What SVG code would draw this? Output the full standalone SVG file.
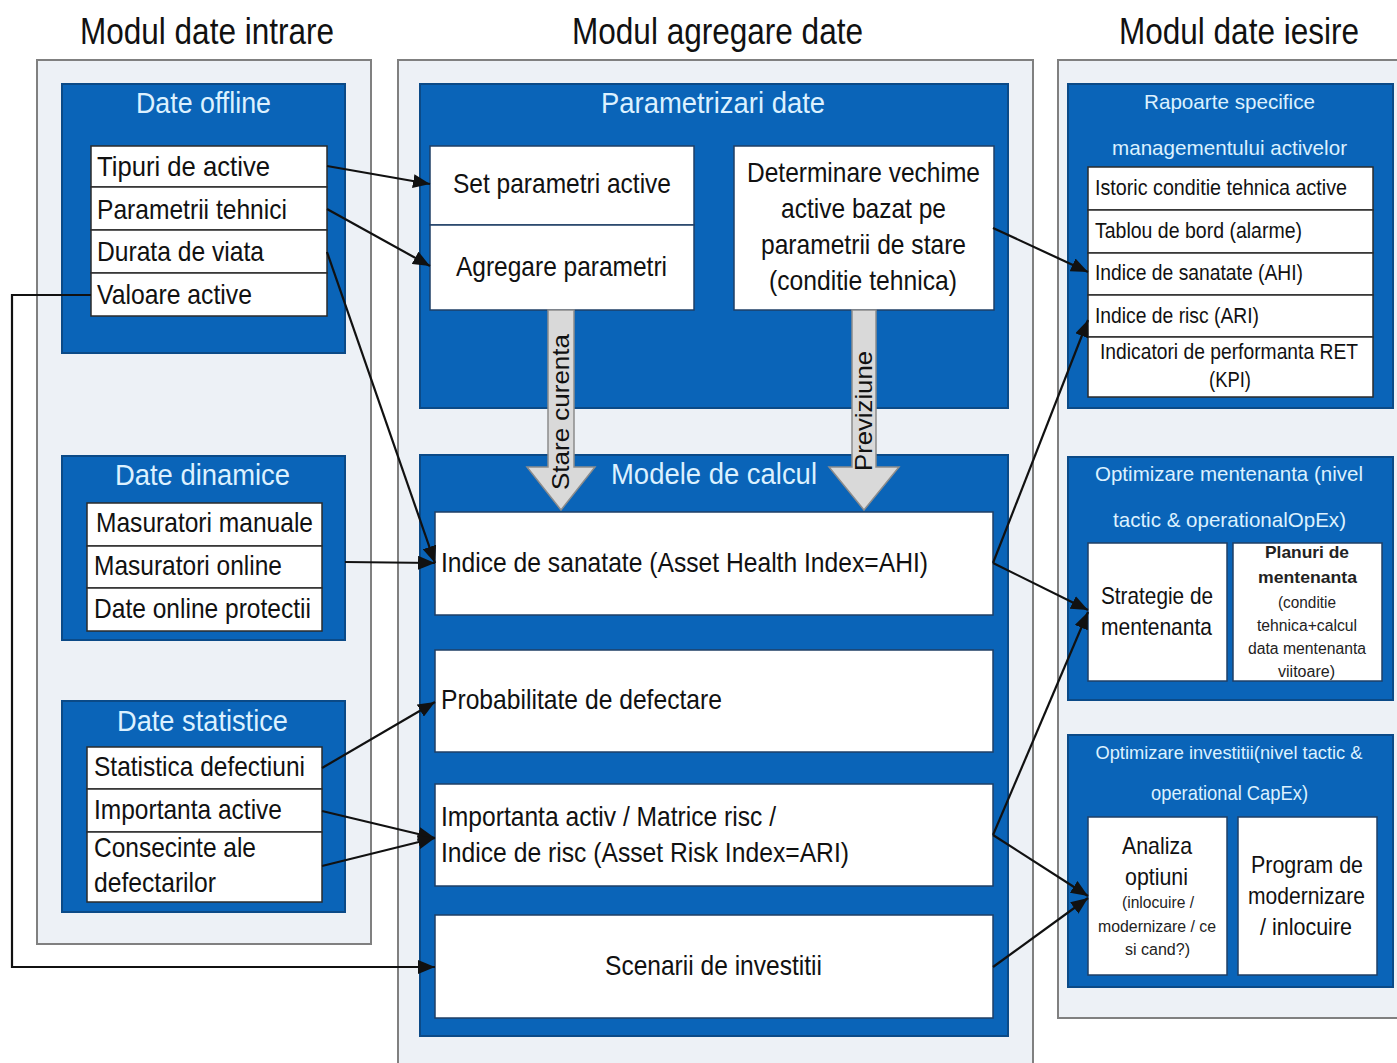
<svg xmlns="http://www.w3.org/2000/svg" width="1397" height="1063" viewBox="0 0 1397 1063">
  <defs>
    <style>
      .panel { fill: #edf1f6; stroke: #808080; stroke-width: 2; }
      .blue { fill: #0a64b8; stroke: #0b4a87; stroke-width: 2; }
      .row { fill: #ffffff; stroke: #2b2b2b; stroke-width: 1.5; }
      .box { fill: #ffffff; stroke: #1f3f66; stroke-width: 1.5; }
      .big { font-family: "Liberation Sans", Arial, sans-serif; font-size: 36px; fill: #111111; }
      .btitle { font-family: "Liberation Sans", Arial, sans-serif; font-size: 29px; fill: #dcf1ff; }
      .stitle { font-family: "Liberation Sans", Arial, sans-serif; font-size: 21px; fill: #dcf1ff; }
      .t { font-family: "Liberation Sans", Arial, sans-serif; font-size: 28px; fill: #111111; }
      .m { font-family: "Liberation Sans", Arial, sans-serif; font-size: 24px; fill: #111111; }
      .s { font-family: "Liberation Sans", Arial, sans-serif; font-size: 22px; fill: #111111; }
      .xs { font-family: "Liberation Sans", Arial, sans-serif; font-size: 16px; fill: #222222; }
      .xsb { font-family: "Liberation Sans", Arial, sans-serif; font-size: 17px; font-weight: bold; fill: #222222; }
      .conn { fill: none; stroke: #111111; stroke-width: 2.2; }
      .flow { fill: #d9d9d9; stroke: #8c8c8c; stroke-width: 1.5; }
    </style>
    <marker id="arrow" markerUnits="userSpaceOnUse" markerWidth="18" markerHeight="14" refX="17" refY="7" orient="auto">
      <path d="M0,0 L17,7 L0,14 z" fill="#111111"/>
    </marker>
  </defs>

  <rect width="1397" height="1063" fill="#ffffff"/>

  <!-- column headings -->
  <text class="big" x="80" y="44" textLength="254" lengthAdjust="spacingAndGlyphs">Modul date intrare</text>
  <text class="big" x="572" y="44" textLength="291" lengthAdjust="spacingAndGlyphs">Modul agregare date</text>
  <text class="big" x="1119" y="44" textLength="240" lengthAdjust="spacingAndGlyphs">Modul date iesire</text>

  <!-- module panels -->
  <rect id="panel-intrare" class="panel" x="37" y="60" width="334" height="884"/>
  <rect id="panel-agregare" class="panel" x="398" y="60" width="635" height="1010"/>
  <rect id="panel-iesire" class="panel" x="1058" y="60" width="345" height="958"/>

  <!-- input: offline data -->
  <g id="date-offline">
    <rect class="blue" x="62" y="84" width="283" height="269"/>
    <text class="btitle" x="136" y="113" textLength="135" lengthAdjust="spacingAndGlyphs">Date offline</text>
    <rect class="row" x="91" y="146" width="236" height="41"/>
    <rect class="row" x="91" y="187" width="236" height="43"/>
    <rect class="row" x="91" y="230" width="236" height="43"/>
    <rect class="row" x="91" y="273" width="236" height="43"/>
    <text class="t" x="97" y="176" textLength="173" lengthAdjust="spacingAndGlyphs">Tipuri de  active</text>
    <text class="t" x="97" y="219" textLength="190" lengthAdjust="spacingAndGlyphs">Parametrii tehnici</text>
    <text class="t" x="97" y="261" textLength="167" lengthAdjust="spacingAndGlyphs">Durata de viata</text>
    <text class="t" x="97" y="304" textLength="155" lengthAdjust="spacingAndGlyphs">Valoare active</text>
  </g>

  <!-- input: dynamic data -->
  <g id="date-dinamice">
    <rect class="blue" x="62" y="456" width="283" height="184"/>
    <text class="btitle" x="115" y="485" textLength="175" lengthAdjust="spacingAndGlyphs">Date dinamice</text>
    <rect class="row" x="87" y="503" width="235" height="43"/>
    <rect class="row" x="87" y="546" width="235" height="42"/>
    <rect class="row" x="87" y="588" width="235" height="43"/>
    <text class="t" x="96" y="532" textLength="217" lengthAdjust="spacingAndGlyphs">Masuratori manuale</text>
    <text class="t" x="94" y="575" textLength="188" lengthAdjust="spacingAndGlyphs">Masuratori online</text>
    <text class="t" x="94" y="618" textLength="217" lengthAdjust="spacingAndGlyphs">Date online protectii</text>
  </g>

  <!-- input: statistical data -->
  <g id="date-statistice">
    <rect class="blue" x="62" y="701" width="283" height="211"/>
    <text class="btitle" x="117" y="731" textLength="171" lengthAdjust="spacingAndGlyphs">Date statistice</text>
    <rect class="row" x="87" y="747" width="235" height="42"/>
    <rect class="row" x="87" y="789" width="235" height="43"/>
    <rect class="row" x="87" y="832" width="235" height="70"/>
    <text class="t" x="94" y="776" textLength="211" lengthAdjust="spacingAndGlyphs">Statistica defectiuni</text>
    <text class="t" x="94" y="819" textLength="188" lengthAdjust="spacingAndGlyphs">Importanta active</text>
    <text class="t" x="94" y="857" textLength="162" lengthAdjust="spacingAndGlyphs">Consecinte ale</text>
    <text class="t" x="94" y="892" textLength="122" lengthAdjust="spacingAndGlyphs">defectarilor</text>
  </g>

  <!-- aggregation: parameterisation -->
  <g id="parametrizari-date">
    <rect class="blue" x="420" y="84" width="588" height="324"/>
    <text class="btitle" x="601" y="113" textLength="224" lengthAdjust="spacingAndGlyphs">Parametrizari date</text>
    <rect class="box" x="430" y="146" width="264" height="79"/>
    <rect class="box" x="430" y="225" width="264" height="85"/>
    <text class="t" x="453" y="193" textLength="218" lengthAdjust="spacingAndGlyphs">Set parametri active</text>
    <text class="t" x="456" y="276" textLength="211" lengthAdjust="spacingAndGlyphs">Agregare parametri</text>
    <rect class="box" x="734" y="146" width="260" height="164"/>
    <text class="t" x="747" y="182" textLength="233" lengthAdjust="spacingAndGlyphs">Determinare vechime</text>
    <text class="t" x="781" y="218" textLength="165" lengthAdjust="spacingAndGlyphs">active bazat pe</text>
    <text class="t" x="761" y="254" textLength="205" lengthAdjust="spacingAndGlyphs">parametrii de stare</text>
    <text class="t" x="769" y="290" textLength="188" lengthAdjust="spacingAndGlyphs">(conditie tehnica)</text>
  </g>

  <!-- aggregation: calculation models -->
  <g id="modele-de-calcul">
    <rect class="blue" x="420" y="455" width="588" height="581"/>
    <text class="btitle" x="611" y="484" textLength="206" lengthAdjust="spacingAndGlyphs">Modele de calcul</text>
    <rect class="box" x="435" y="512" width="558" height="103"/>
    <text class="t" x="441" y="572" textLength="487" lengthAdjust="spacingAndGlyphs">Indice de sanatate (Asset Health Index=AHI)</text>
    <rect class="box" x="435" y="650" width="558" height="102"/>
    <text class="t" x="441" y="709" textLength="281" lengthAdjust="spacingAndGlyphs">Probabilitate de defectare</text>
    <rect class="box" x="435" y="784" width="558" height="102"/>
    <text class="t" x="441" y="826" textLength="335" lengthAdjust="spacingAndGlyphs">Importanta activ / Matrice risc /</text>
    <text class="t" x="441" y="862" textLength="408" lengthAdjust="spacingAndGlyphs">Indice de risc (Asset Risk Index=ARI)</text>
    <rect class="box" x="435" y="915" width="558" height="103"/>
    <text class="t" x="605" y="975" textLength="217" lengthAdjust="spacingAndGlyphs">Scenarii de investitii</text>
  </g>

  <!-- block arrows between parameterisation and models -->
  <g id="stare-curenta">
    <path class="flow" d="M548,310 L574,310 L574,467 L595,467 L561,510 L527,467 L548,467 z"/>
    <text class="m" transform="translate(569,412) rotate(-90)" x="-78" y="0" textLength="156" lengthAdjust="spacingAndGlyphs">Stare curenta</text>
  </g>
  <g id="previziune">
    <path class="flow" d="M852,310 L876,310 L876,467 L899,467 L864,510 L829,467 L852,467 z"/>
    <text class="m" transform="translate(872,411) rotate(-90)" x="-60" y="0" textLength="120" lengthAdjust="spacingAndGlyphs">Previziune</text>
  </g>

  <!-- output: asset management reports -->
  <g id="rapoarte">
    <rect class="blue" x="1068" y="84" width="325" height="324"/>
    <text class="stitle" x="1144" y="109" textLength="171" lengthAdjust="spacingAndGlyphs">Rapoarte specifice</text>
    <text class="stitle" x="1112" y="155" textLength="235" lengthAdjust="spacingAndGlyphs">managementului activelor</text>
    <rect class="row" x="1088" y="167" width="285" height="43"/>
    <rect class="row" x="1088" y="210" width="285" height="43"/>
    <rect class="row" x="1088" y="253" width="285" height="42"/>
    <rect class="row" x="1088" y="295" width="285" height="42"/>
    <rect class="row" x="1088" y="337" width="285" height="60"/>
    <text class="s" x="1095" y="195" textLength="252" lengthAdjust="spacingAndGlyphs">Istoric conditie tehnica  active</text>
    <text class="s" x="1095" y="238" textLength="207" lengthAdjust="spacingAndGlyphs">Tablou de bord (alarme)</text>
    <text class="s" x="1095" y="280" textLength="208" lengthAdjust="spacingAndGlyphs">Indice de sanatate (AHI)</text>
    <text class="s" x="1095" y="323" textLength="164" lengthAdjust="spacingAndGlyphs">Indice de risc (ARI)</text>
    <text class="s" x="1100" y="359" textLength="258" lengthAdjust="spacingAndGlyphs">Indicatori de performanta RET</text>
    <text class="s" x="1209" y="387" textLength="42" lengthAdjust="spacingAndGlyphs">(KPI)</text>
  </g>

  <!-- output: maintenance optimisation -->
  <g id="optimizare-mentenanta">
    <rect class="blue" x="1068" y="457" width="325" height="243"/>
    <text class="stitle" x="1095" y="481" textLength="268" lengthAdjust="spacingAndGlyphs">Optimizare mentenanta (nivel</text>
    <text class="stitle" x="1113" y="527" textLength="233" lengthAdjust="spacingAndGlyphs">tactic &amp; operationalOpEx)</text>
    <rect class="box" x="1088" y="543" width="139" height="138"/>
    <text class="m" x="1101" y="604" textLength="112" lengthAdjust="spacingAndGlyphs">Strategie de</text>
    <text class="m" x="1101" y="635" textLength="111" lengthAdjust="spacingAndGlyphs">mentenanta</text>
    <rect class="box" x="1233" y="543" width="149" height="138"/>
    <text class="xsb" x="1265" y="558" textLength="84" lengthAdjust="spacingAndGlyphs">Planuri de</text>
    <text class="xsb" x="1258" y="583" textLength="99" lengthAdjust="spacingAndGlyphs">mentenanta</text>
    <text class="xs" x="1278" y="608" textLength="58" lengthAdjust="spacingAndGlyphs">(conditie</text>
    <text class="xs" x="1257" y="631" textLength="100" lengthAdjust="spacingAndGlyphs">tehnica+calcul</text>
    <text class="xs" x="1248" y="654" textLength="118" lengthAdjust="spacingAndGlyphs">data mentenanta</text>
    <text class="xs" x="1278" y="677" textLength="57" lengthAdjust="spacingAndGlyphs">viitoare)</text>
  </g>

  <!-- output: investment optimisation -->
  <g id="optimizare-investitii">
    <rect class="blue" x="1068" y="735" width="325" height="252"/>
    <text class="stitle" x="1229" y="759" text-anchor="middle" style="font-size:19px" textLength="267" lengthAdjust="spacingAndGlyphs">Optimizare investitii(nivel tactic &amp;</text>
    <text class="stitle" x="1151" y="800" textLength="157" lengthAdjust="spacingAndGlyphs">operational CapEx)</text>
    <rect class="box" x="1088" y="817" width="139" height="158"/>
    <text class="m" x="1122" y="854" textLength="70" lengthAdjust="spacingAndGlyphs">Analiza</text>
    <text class="m" x="1125" y="885" textLength="63" lengthAdjust="spacingAndGlyphs">optiuni</text>
    <text class="xs" x="1122" y="908" textLength="72" lengthAdjust="spacingAndGlyphs">(inlocuire /</text>
    <text class="xs" x="1098" y="932" textLength="118" lengthAdjust="spacingAndGlyphs">modernizare / ce</text>
    <text class="xs" x="1125" y="955" textLength="65" lengthAdjust="spacingAndGlyphs">si cand?)</text>
    <rect class="box" x="1238" y="817" width="139" height="158"/>
    <text class="m" x="1251" y="873" textLength="112" lengthAdjust="spacingAndGlyphs">Program de</text>
    <text class="m" x="1248" y="904" textLength="117" lengthAdjust="spacingAndGlyphs">modernizare</text>
    <text class="m" x="1260" y="935" textLength="92" lengthAdjust="spacingAndGlyphs">/ inlocuire</text>
  </g>

  <!-- connectors -->
  <g id="connectors">
    <line class="conn" x1="327" y1="166" x2="430" y2="184" marker-end="url(#arrow)"/>
    <line class="conn" x1="327" y1="209" x2="430" y2="266" marker-end="url(#arrow)"/>
    <line class="conn" x1="327" y1="252" x2="435" y2="563" marker-end="url(#arrow)"/>
    <polyline class="conn" points="91,295 12,295 12,967 435,967" marker-end="url(#arrow)"/>
    <line class="conn" x1="345" y1="562" x2="435" y2="563" marker-end="url(#arrow)"/>
    <line class="conn" x1="322" y1="768" x2="435" y2="702" marker-end="url(#arrow)"/>
    <line class="conn" x1="322" y1="811" x2="435" y2="838" marker-end="url(#arrow)"/>
    <line class="conn" x1="322" y1="866" x2="435" y2="838" marker-end="url(#arrow)"/>
    <line class="conn" x1="993" y1="228" x2="1088" y2="272" marker-end="url(#arrow)"/>
    <line class="conn" x1="993" y1="563" x2="1088" y2="320" marker-end="url(#arrow)"/>
    <line class="conn" x1="993" y1="563" x2="1088" y2="610" marker-end="url(#arrow)"/>
    <line class="conn" x1="993" y1="835" x2="1088" y2="612" marker-end="url(#arrow)"/>
    <line class="conn" x1="993" y1="835" x2="1088" y2="896" marker-end="url(#arrow)"/>
    <line class="conn" x1="993" y1="967" x2="1088" y2="898" marker-end="url(#arrow)"/>
  </g>
</svg>
